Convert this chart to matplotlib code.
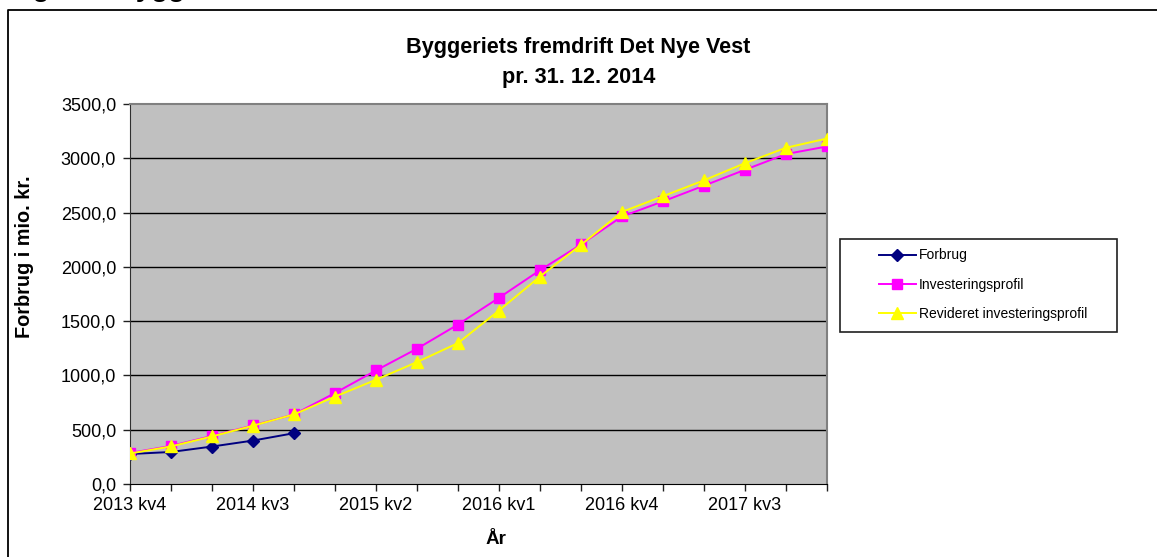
import matplotlib.pyplot as plt
from matplotlib.lines import Line2D
from matplotlib.patches import Rectangle
from matplotlib.ticker import FuncFormatter

plt.rcParams['font.family'] = ['Liberation Sans', 'DejaVu Sans']

# quarters on the x axis (only every third one gets a label)
quarters = ["2013 kv4", "2014 kv1", "2014 kv2", "2014 kv3", "2014 kv4",
            "2015 kv1", "2015 kv2", "2015 kv3", "2015 kv4",
            "2016 kv1", "2016 kv2", "2016 kv3", "2016 kv4",
            "2017 kv1", "2017 kv2", "2017 kv3", "2017 kv4", "2018 kv1"]

# mio. kr.
forbrug = [276, 295, 345, 400, 468]
investeringsprofil = [286, 351, 443, 540, 641, 838, 1046, 1246, 1469, 1715,
                      1969, 2206, 2464, 2603, 2748, 2894, 3039, 3109]
revideret = [281, 346, 438, 537, 641, 805, 960, 1123, 1298, 1598,
             1911, 2203, 2506, 2651, 2797, 2955, 3097, 3182]

y_ticks = [0, 500, 1000, 1500, 2000, 2500, 3000, 3500]

W, H = 1157, 557


def px_x(x):
    return x / W


def px_y(y):
    return 1 - y / H


fig = plt.figure(figsize=(W / 100, H / 100), dpi=100)
ax = fig.add_axes([px_x(130), px_y(484), (827 - 130) / W, (484 - 104) / H])
ax.set_facecolor('#C0C0C0')

x = list(range(len(quarters)))
ax.plot(x[:len(forbrug)], forbrug, color='#000080', lw=1.4, marker='D',
        markersize=6.5, label='Forbrug', zorder=3)
ax.plot(x, investeringsprofil, color='#FF00FF', lw=1.4, marker='s',
        markersize=6.5, label='Investeringsprofil', zorder=4)
ax.plot(x, revideret, color='#FFFF00', lw=1.4, marker='^',
        markersize=8.5, label='Revideret investeringsprofil', zorder=5)

ax.set_xlim(0, len(quarters) - 1)
ax.set_ylim(0, 3500)
ax.set_xticks(x)
ax.set_xticklabels([q if i % 3 == 0 else '' for i, q in enumerate(quarters)])
ax.set_yticks(y_ticks)
ax.yaxis.set_major_formatter(FuncFormatter(lambda v, p: f"{v:.1f}".replace('.', ',')))
ax.tick_params(axis='x', direction='out', length=5, width=1, color='#202020',
               labelsize=13, pad=4)
ax.tick_params(axis='y', direction='out', length=5, width=1, color='#202020',
               labelsize=13, pad=5)

for v in y_ticks[1:-1]:
    ax.axhline(v, color='black', lw=1, zorder=1)

ax.spines['top'].set_color('#808080')
ax.spines['right'].set_color('#808080')
ax.spines['top'].set_linewidth(1.5)
ax.spines['right'].set_linewidth(1.5)
ax.spines['left'].set_color('#303030')
ax.spines['bottom'].set_color('black')

# axis titles sit relative to the whole chart, not the plot area
fig.text(px_x(25), px_y(257), 'Forbrug i mio. kr.', rotation=90, fontsize=14.3,
         fontweight='bold', ha='center', va='center')
fig.text(px_x(496), px_y(540), 'År', fontsize=13.5, fontweight='bold',
         ha='center', va='center')

fig.text(0.5, px_y(47), 'Byggeriets fremdrift Det Nye Vest', fontsize=15.6,
         fontweight='bold', ha='center', va='center')
fig.text(0.5, px_y(78), 'pr. 31. 12. 2014', fontsize=15.6,
         fontweight='bold', ha='center', va='center')

# cut-off heading from the page above the chart
fig.text(px_x(8), 1 + 4 / H, 'Figur 1. Byggeriets fremdrift', fontsize=20,
         fontweight='bold', ha='left', va='baseline')

# chart frame (continues past the right and bottom edge)
fig.add_artist(Line2D([px_x(8), px_x(8), 1.01], [-0.01, px_y(10), px_y(10)],
                      color='black', lw=1.3))

handles, labels = ax.get_legend_handles_labels()
fig.legend(handles, labels, loc='upper left',
           bbox_to_anchor=(px_x(866), px_y(236)), frameon=False, fontsize=10,
           handlelength=2.7, handletextpad=0.2, labelspacing=1.1)
fig.add_artist(Rectangle((px_x(840), px_y(332)), (1117 - 840) / W, (332 - 239) / H,
                         fill=False, edgecolor='#202020', lw=1.2))

fig.savefig('out.png', dpi=100)
